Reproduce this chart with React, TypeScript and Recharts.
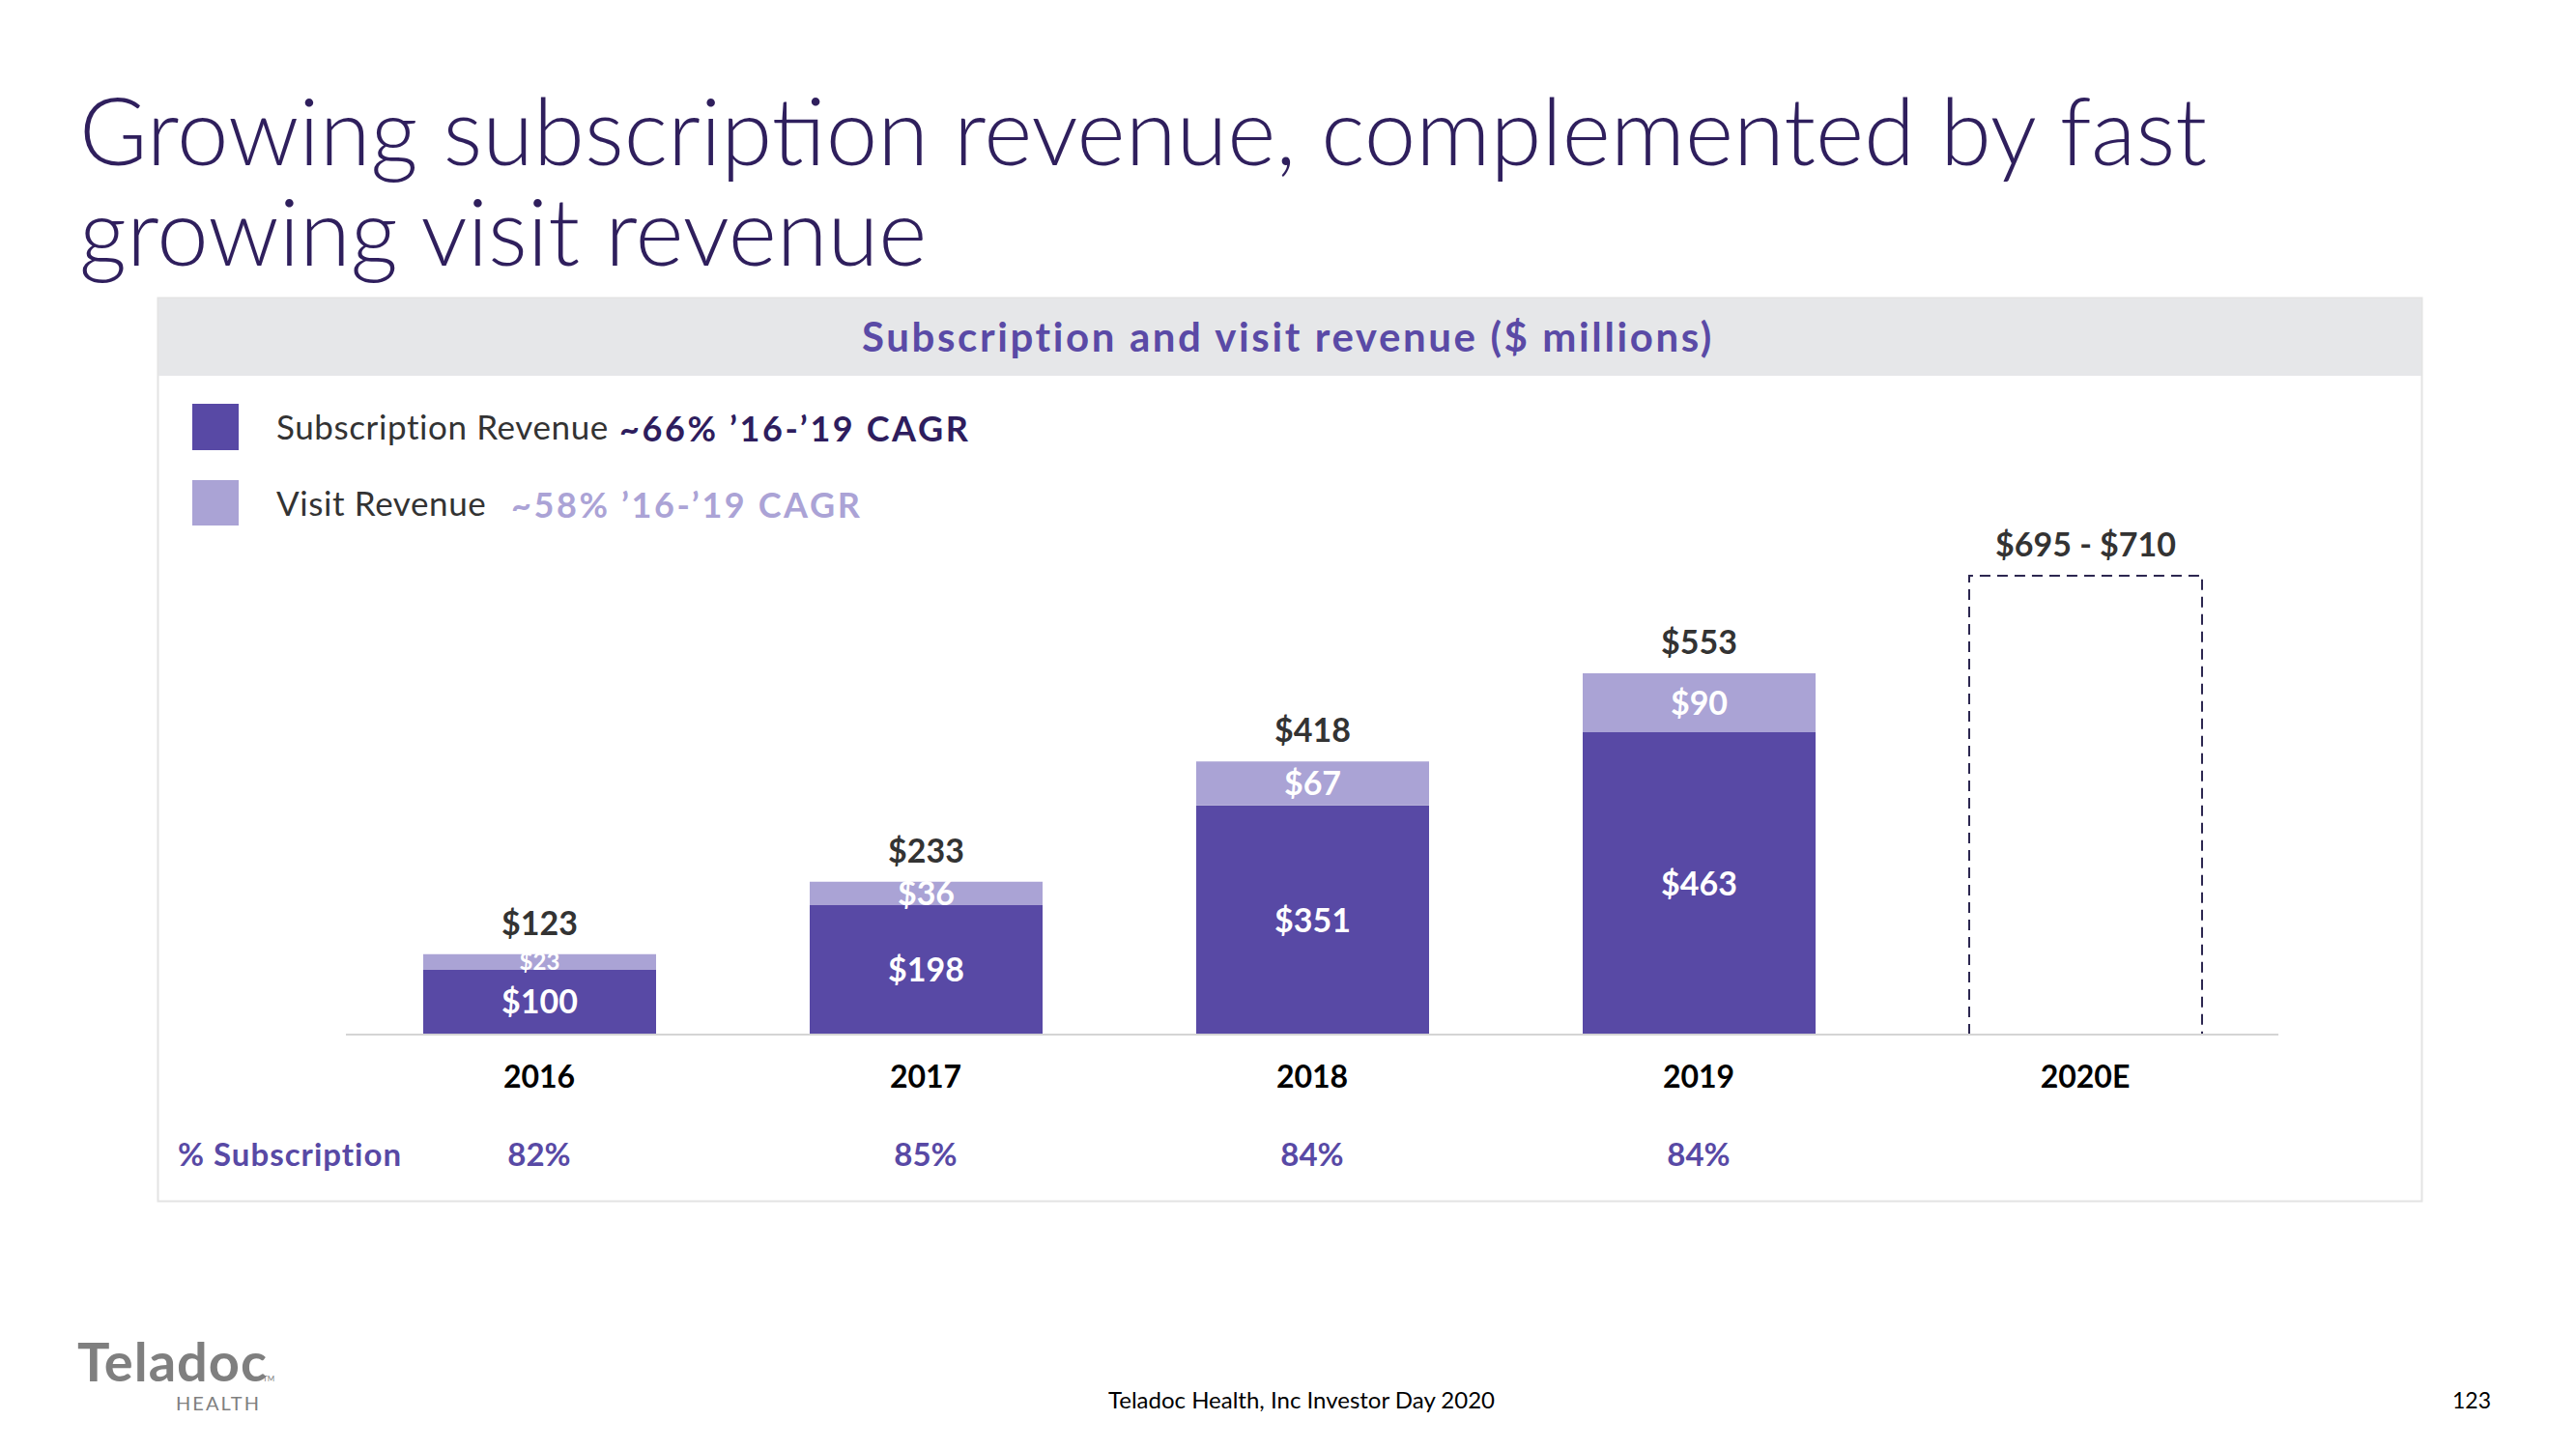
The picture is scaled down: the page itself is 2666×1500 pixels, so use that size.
import React from "react";
import { BarChart, Bar, XAxis, YAxis, LabelList } from "recharts";

const years = ["2016", "2017", "2018", "2019", "2020E"];
const subscription = [100, 198, 351, 463, null];
const visit = [23, 36, 67, 90, null];
const totals = ["$123", "$233", "$418", "$553", null];
const estimate = [null, null, null, null, 702.5];
const estimateLabel = [null, null, null, null, "$695 - $710"];
const pctSubscription = ["82%", "85%", "84%", "84%", ""];

const data = years.map((y, i) => ({
  year: y,
  sub: subscription[i],
  visit: visit[i],
  total: totals[i],
  est: estimate[i],
  estLabel: estimateLabel[i],
  pct: pctSubscription[i],
}));

const W = 2666;
const H = 1500;
const PLOT_BOTTOM = 1071;
const FONT = "Lato, 'Open Sans', sans-serif";
const DARK = "#5849a5";
const LIGHT = "#aaa3d5";
const TITLE = "#2f1f5d";

const rectOf = (p: any) => {
  const vb = p.viewBox || {};
  return {
    x: p.x ?? vb.x,
    y: p.y ?? vb.y,
    width: p.width ?? vb.width,
    height: p.height ?? vb.height,
  };
};

const CenterLabel = (p: any) => {
  if (p.value == null) return null;
  const r = rectOf(p);
  const h = Math.abs(r.height);
  const fs = h < 20 ? 24 : 34;
  return (
    <text
      x={r.x + r.width / 2}
      y={r.y + r.height / 2 + fs * 0.36}
      textAnchor="middle"
      fill="#ffffff"
      fontFamily={FONT}
      fontWeight={700}
      fontSize={fs}
    >
      {"$" + p.value}
    </text>
  );
};

const TopLabel = (p: any) => {
  if (p.value == null) return null;
  const r = rectOf(p);
  return (
    <text
      x={r.x + r.width / 2}
      y={r.y - 20}
      textAnchor="middle"
      fill="#333333"
      fontFamily={FONT}
      fontWeight={700}
      fontSize={34}
    >
      {p.value}
    </text>
  );
};

const DashedShape = (p: any) => {
  const { x, y, width, height } = p;
  if (!height) return null;
  const d = `M${x},${y + height} L${x},${y} L${x + width},${y} L${x + width},${y + height}`;
  return <path d={d} fill="none" stroke="#2c2750" strokeWidth={2} strokeDasharray="11 7" />;
};

const YearTick = (p: any) => {
  const idx = p.index ?? p.payload?.index ?? 0;
  return (
    <g>
      <text
        x={p.x}
        y={PLOT_BOTTOM + 55}
        textAnchor="middle"
        fill="#000000"
        fontFamily={FONT}
        fontWeight={700}
        fontSize={32}
      >
        {p.payload.value}
      </text>
      <text
        x={p.x}
        y={PLOT_BOTTOM + 136}
        textAnchor="middle"
        fill={DARK}
        fontFamily={FONT}
        fontWeight={700}
        fontSize={33}
      >
        {pctSubscription[idx]}
      </text>
    </g>
  );
};

export default function App() {
  return (
    <div style={{ position: "absolute", left: 0, top: 0, width: W, height: H, background: "#ffffff", overflow: "hidden" }}>
      <svg width={W} height={H} style={{ position: "absolute", left: 0, top: 0 }}>
        <text x={82} y={171} fill={TITLE} fontFamily={FONT} fontWeight={300} fontSize={96}>
          Growing subscription revenue, complemented by fast
        </text>
        <text x={82} y={275} fill={TITLE} fontFamily={FONT} fontWeight={300} fontSize={96}>
          growing visit revenue
        </text>
        <rect x={163.5} y={308.5} width={2343} height={935} fill="#ffffff" stroke="#e3e3e3" strokeWidth={2} />
        <rect x={164} y={309} width={2342} height={80} fill="#e6e7e9" />
        <text x={1333} y={364} textAnchor="middle" fill="#5a4aa6" fontFamily={FONT} fontWeight={700} fontSize={42} letterSpacing={2.6}>
          Subscription and visit revenue ($ millions)
        </text>
        <rect x={199} y={418} width={48} height={48} fill={DARK} />
        <rect x={199} y={497} width={48} height={47} fill={LIGHT} />
        <text x={286} y={455} fill="#333333" fontFamily={FONT} fontWeight={400} fontSize={35} letterSpacing={0.6}>
          Subscription Revenue
        </text>
        <text x={641} y={457} fill="#2e1d5e" fontFamily={FONT} fontWeight={700} fontSize={36} letterSpacing={2.6}>
          ~66% ’16-’19 CAGR
        </text>
        <text x={286} y={534} fill="#333333" fontFamily={FONT} fontWeight={400} fontSize={35} letterSpacing={0.6}>
          Visit Revenue
        </text>
        <text x={529} y={536} fill="#aba3d6" fontFamily={FONT} fontWeight={700} fontSize={36} letterSpacing={2.6}>
          ~58% ’16-’19 CAGR
        </text>
        <text x={184} y={1207} fill={DARK} fontFamily={FONT} fontWeight={700} fontSize={33} letterSpacing={1}>
          % Subscription
        </text>
        <text x={80} y={1430} fill="#7f7f7f" fontFamily={FONT} fontWeight={700} fontSize={56} letterSpacing={1}>
          Teladoc
        </text>
        <text x={272} y={1430} fill="#7f7f7f" fontFamily={FONT} fontWeight={400} fontSize={8}>
          TM
        </text>
        <text x={226} y={1460} textAnchor="middle" fill="#7f7f7f" fontFamily={FONT} fontWeight={400} fontSize={20} letterSpacing={2}>
          HEALTH
        </text>
        <text x={1347} y={1458} textAnchor="middle" fill="#000000" fontFamily={FONT} fontWeight={400} fontSize={24}>
          Teladoc Health, Inc Investor Day 2020
        </text>
        <text x={2578} y={1458} textAnchor="end" fill="#000000" fontFamily={FONT} fontWeight={400} fontSize={23}>
          123
        </text>
      </svg>
      <div style={{ position: "absolute", left: 0, top: 0 }}>
        <BarChart
          width={W}
          height={H}
          data={data}
          margin={{ top: 530, right: 308, bottom: 369, left: 358 }}
          barSize={241}
        >
          <XAxis
            dataKey="year"
            height={60}
            axisLine={{ stroke: "#d4d4d4", strokeWidth: 2 }}
            tickLine={false}
            tick={<YearTick />}
            interval={0}
          />
          <YAxis hide domain={[0, 800]} />
          <Bar dataKey="sub" stackId="a" fill={DARK} isAnimationActive={false}>
            <LabelList dataKey="sub" content={<CenterLabel />} />
          </Bar>
          <Bar dataKey="visit" stackId="a" fill={LIGHT} isAnimationActive={false}>
            <LabelList dataKey="visit" content={<CenterLabel />} />
            <LabelList dataKey="total" content={<TopLabel />} />
          </Bar>
          <Bar dataKey="est" stackId="a" fill="none" shape={<DashedShape />} isAnimationActive={false}>
            <LabelList dataKey="estLabel" content={<TopLabel />} />
          </Bar>
        </BarChart>
      </div>
    </div>
  );
}
